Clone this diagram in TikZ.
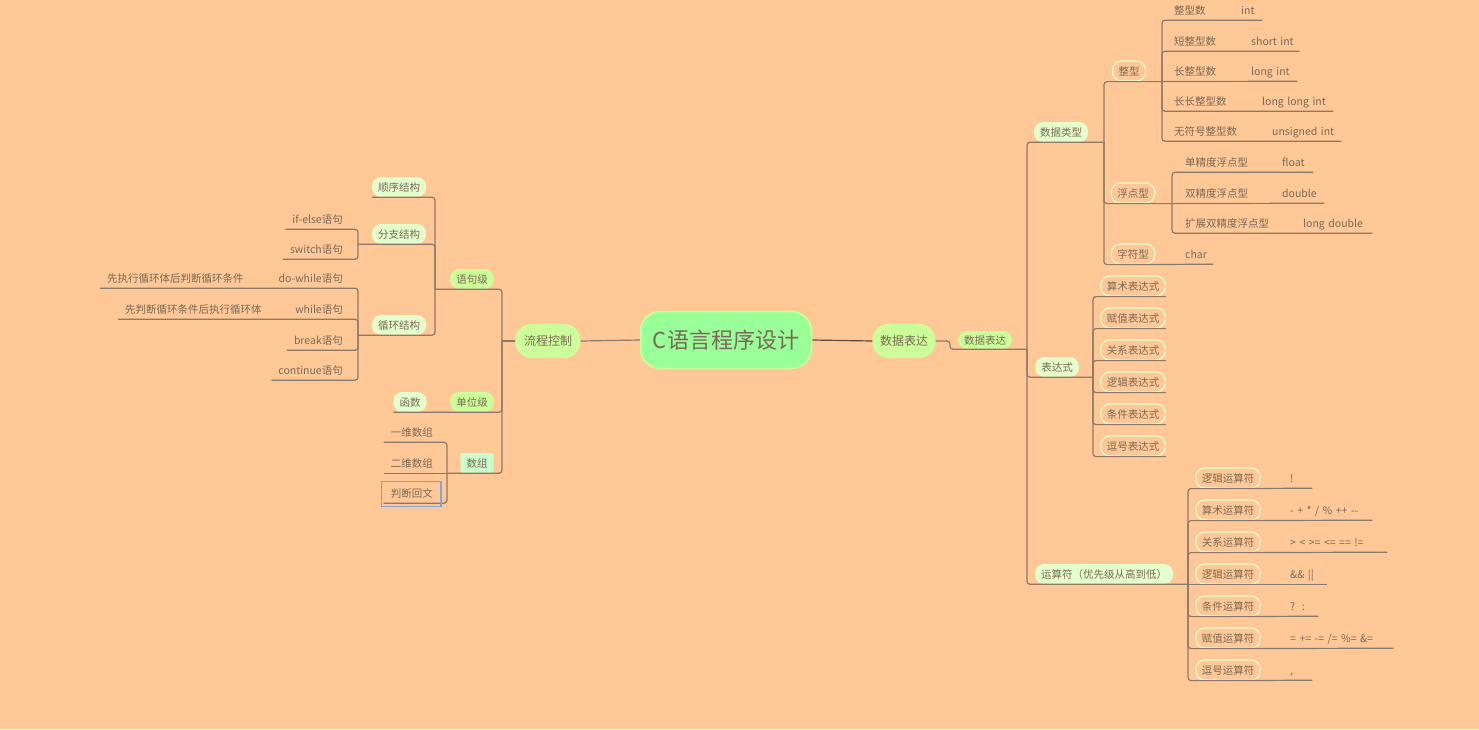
\documentclass[tikz,border=0pt]{standalone}
\usepackage{fontspec}
\setmainfont{Noto Sans CJK SC}
\definecolor{bgc}{HTML}{FFC896}
\definecolor{rootc}{HTML}{99FF99}
\definecolor{lvlone}{HTML}{CCFF99}
\definecolor{pale}{HTML}{E5FFCC}
\definecolor{arrc}{HTML}{CCFFCC}
\definecolor{inkc}{HTML}{7A6956}
\definecolor{linec}{HTML}{8C7A68}
\definecolor{darkline}{HTML}{5A4A3A}
\definecolor{selc}{HTML}{7EA6E0}
\begin{document}
\begin{tikzpicture}[x=1pt,y=-1pt,
	mind/.style={font=\fontsize{10.5}{12}\selectfont,text=inkc,text height=9pt,text depth=1pt,minimum height=20pt,inner xsep=6pt,inner ysep=0pt},
	pill/.style={mind,rounded corners=9pt,fill=pale},
	leaf/.style={mind,rounded corners=9pt,draw=pale,line width=1.2pt},
	txt/.style={mind,inner xsep=7pt},
	val/.style={mind,anchor=west,inner xsep=0pt,align=left},
	big/.style={font=\fontsize{12}{14}\selectfont,text=inkc,fill=lvlone,rounded corners=16pt,minimum height=34pt},
	link/.style={draw=linec,line width=1.2pt,rounded corners=3pt}]
	\fill[bgc] (0,0) rectangle (1479,729);
	\node[font=\fontsize{22}{26}\selectfont,text=inkc,fill=rootc,draw=lvlone,line width=1.5pt,rounded corners=20pt,minimum width=171pt,minimum height=57pt] (root) at (726,340) {C语言程序设计};
	\node[big,minimum width=65pt] (ctrl) at (548,341) {流程控制};
	\node[big,minimum width=63pt] (expr) at (904,341) {数据表达};
	\node[pill,fill=lvlone,minimum height=18pt] (dex) at (985,340) {数据表达};
	% left
	\node[pill,fill=lvlone] (stmt) at (472,279) {语句级};
	\node[pill,fill=lvlone] (unit) at (472,402) {单位级};
	\node[mind,fill=arrc,rounded corners=2pt] (arr) at (477,463) {数组};
	\node[pill] (seq) at (399,187) {顺序结构};
	\node[pill] (branch) at (399,234) {分支结构};
	\node[pill] (loop) at (399,325) {循环结构};
	\node[pill] (func) at (410,402) {函数};
	\foreach \n/\lab/\y in {ifelse/if-else语句/219, switch/switch语句/249, dowhile/do-while语句/278, while/while语句/309, break/break语句/340, continue/continue语句/370}{\node[txt,anchor=east] (\n) at (350,\y) {\lab};}
	\node[txt,anchor=west] (dwnote) at (100,278) {先执行循环体后判断循环条件};
	\node[txt,anchor=west] (whnote) at (118,309) {先判断循环条件后执行循环体};
	\foreach \n/\lab/\y in {arr1/一维数组/432, arr2/二维数组/463, pal/判断回文/493}{\node[txt,anchor=east] (\n) at (440,\y) {\lab};}
	\coordinate (ctrl-bar) at (502,0);\coordinate (stmt-bar) at (435,0);\coordinate (branch-bar) at (358,0);\coordinate (loop-bar) at (358,0);\coordinate (arr-bar) at (447,0);
	\draw[link] (root.west) -- (ctrl.east);
	\draw[link] (ctrl.west) -- (ctrl.west -| ctrl-bar);
	\draw[link] (ctrl.west -| ctrl-bar) |- (stmt.south) -- (stmt.south -| stmt-bar);
	\draw[link] (ctrl.west -| ctrl-bar) |- (unit.south) -- (func.south west);
	\draw[link] (ctrl.west -| ctrl-bar) |- (arr.south) -- (arr.south -| arr-bar);
	\draw[link] (stmt.south -| stmt-bar) |- (seq.south) -- (seq.south west);
	\draw[link] (stmt.south -| stmt-bar) |- (branch.south) -- (branch.south -| branch-bar);
	\draw[link] (stmt.south -| stmt-bar) |- (loop.south) -- (loop.south -| loop-bar);
	\foreach \n in {ifelse,switch}{\draw[link] (branch.south -| branch-bar) |- (\n.south) -- (\n.south west);}
	\draw[link] (loop.south -| loop-bar) |- (dowhile.south) -- (dwnote.south west);
	\draw[link] (loop.south -| loop-bar) |- (while.south) -- (whnote.south west);
	\foreach \n in {break,continue}{\draw[link] (loop.south -| loop-bar) |- (\n.south) -- (\n.south west);}
	\draw[link] (arr.south -| arr-bar) |- (arr1.south) -- (arr1.south west);
	\draw[link] (arr.south -| arr-bar) -- (arr2.south west);
	\draw[link] (arr.south -| arr-bar) |- (pal.south) -- (pal.south west);
	\draw[selc,line width=1.2pt] ([shift={(-2,-1)}]pal.north west) rectangle ([shift={(1,3)}]pal.south east);
	% right
	\node[pill] (dtype) at (1061,132) {数据类型};
	\node[pill] (exps) at (1057,367) {表达式};
	\node[pill] (ops) at (1104,574) {运算符（优先级从高到低）};
	\node[leaf] (int) at (1129,71) {整型};
	\node[leaf] (flt) at (1133,193) {浮点型};
	\node[leaf] (chr) at (1133,254) {字符型};
	\node[val,text width=28pt] (chr-v) at (1185,254) {char};
	\foreach \n/\lab/\val/\y/\vx/\w in {i1/整型数/int/10/1241/21pt, i2/短整型数/short int/41/1251/48pt, i3/长整型数/long int/71/1251/46pt, i4/长长整型数/long long int/101/1262/71pt, i5/无符号整型数/unsigned int/131/1272/69pt}{
		\node[mind,anchor=west] (\n) at (1168,\y) {\lab};\node[val,text width=\w] (\n-v) at (\vx,\y) {\val};}
	\foreach \n/\lab/\val/\y/\vx/\w in {f1/单精度浮点型/float/162/1282/31pt, f2/双精度浮点型/double/193/1282/42pt, f3/扩展双精度浮点型/long double/223/1303/69pt}{
		\node[mind,anchor=west] (\n) at (1179,\y) {\lab};\node[val,text width=\w] (\n-v) at (\vx,\y) {\val};}
	\foreach \n/\lab/\y in {e1/算术表达式/286, e2/赋值表达式/318, e3/关系表达式/350, e4/逻辑表达式/382, e5/条件表达式/414, e6/逗号表达式/446}{\node[leaf] (\n) at (1133,\y) {\lab};}
	\foreach \n/\lab/\val/\y/\w in {o1/逻辑运算符/!/478/22pt, o2/算术运算符/{- + * / \% ++ -{}-}/510/82pt, o3/关系运算符/{> < >= <= == !=}/542/97pt, o4/逻辑运算符/{\&\& ||}/574/37pt, o5/条件运算符/{?\ \ :}/606/28pt, o6/赋值运算符/{= += -= /= \%= \&=}/638/103pt, o7/逗号运算符/{,}/670/22pt}{
		\node[leaf] (\n) at (1228,\y) {\lab};\node[val,text width=\w] (\n-v) at (1290,\y) {\val};}
	\coordinate (expr-k) at (950,0);\coordinate (dex-bar) at (1027,0);\coordinate (dtype-bar) at (1104,0);\coordinate (exps-bar) at (1093,0);\coordinate (ops-bar) at (1188,0);\coordinate (int-bar) at (1162,0);\coordinate (flt-bar) at (1172,0);
	\draw[link,draw=darkline] (root.east) -- (expr.west);
	\draw[link] (expr.east) -- (expr.east -| expr-k) |- (dex.south) -- (dex.south -| dex-bar);
	\foreach \n in {dtype,exps,ops}{\draw[link] (dex.south -| dex-bar) |- (\n.south) -- (\n.south -| \n-bar);}
	\foreach \n in {int,flt}{\draw[link] (dtype.south -| dtype-bar) |- (\n.south) -- (\n.south -| \n-bar);}
	\draw[link] (dtype.south -| dtype-bar) |- (chr.south) -- (chr-v.south east);
	\foreach \n in {i1,i2,i4,i5}{\draw[link] (int.south -| int-bar) |- (\n.south) -- (\n-v.south east);}
	\draw[link] (int.south -| int-bar) -- (i3-v.south east);
	\foreach \n in {f1,f3}{\draw[link] (flt.south -| flt-bar) |- (\n.south) -- (\n-v.south east);}
	\draw[link] (flt.south -| flt-bar) -- (f2-v.south east);
	\foreach \n in {e1,e2,e3,e4,e5,e6}{\draw[link] (exps.south -| exps-bar) |- (\n.south) -- (\n.south east);}
	\foreach \n in {o1,o2,o3,o5,o6,o7}{\draw[link] (ops.south -| ops-bar) |- (\n.south) -- (\n-v.south east);}
	\draw[link] (ops.south -| ops-bar) -- (o4-v.south east);
\end{tikzpicture}
\end{document}
